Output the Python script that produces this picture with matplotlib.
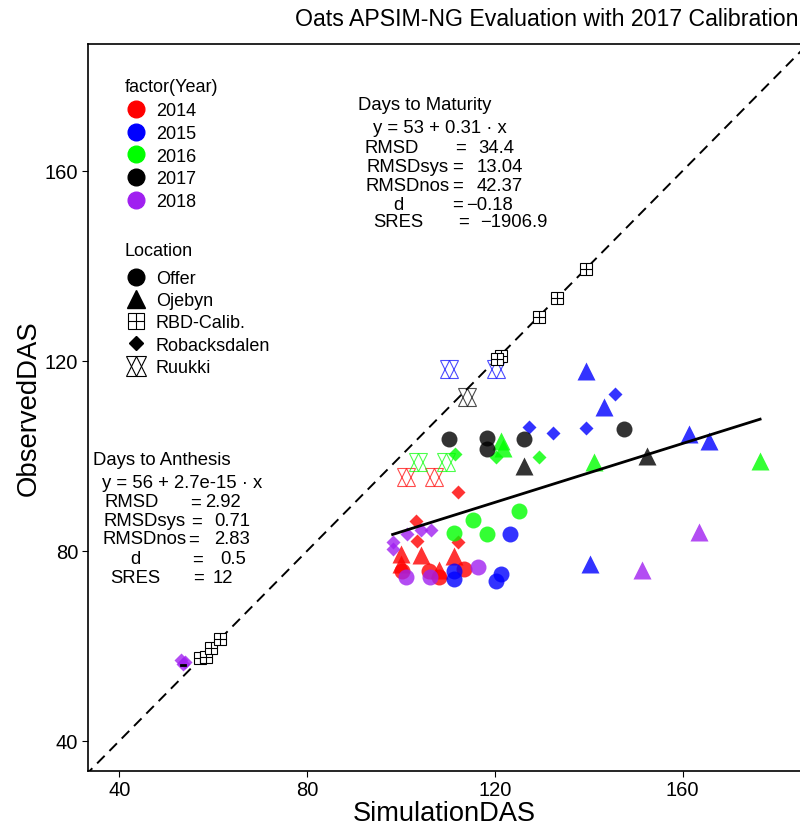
import matplotlib
matplotlib.use("Agg")
import matplotlib.pyplot as plt
from matplotlib.lines import Line2D
from matplotlib.legend_handler import HandlerTuple

plt.rcParams['font.family'] = ['Liberation Sans', 'DejaVu Sans']

# Days to maturity: simulated vs observed, with year and location per point
mat_sim = [101.0, 107.0, 112.1, 103.1, 103.3, 112.1, 99.9, 104.2, 111.2, 99.9, 108.0,
           100.3, 105.9, 108.0, 113.4,
           110.2, 120.2, 145.5, 127.3, 132.4, 139.3, 139.3, 143.3, 161.3, 165.6, 140.2,
           123.2, 111.2, 111.2, 121.3, 120.2,
           103.7, 109.5, 111.4, 120.2, 129.4, 121.3, 121.8, 141.2, 176.5,
           125.1, 115.3, 118.3, 111.2,
           114.0, 110.2, 118.3, 118.3, 126.2, 147.4, 126.2, 152.5,
           139.3, 133.3, 129.4, 121.3, 120.4,
           101.2, 104.2, 106.3, 98.2, 98.2, 101.0, 106.1, 116.4, 163.4, 151.4]
mat_obs = [95.5, 95.5, 92.3, 86.3, 82.0, 81.8, 79.3, 79.1, 78.9, 77.2, 75.9,
           75.7, 75.7, 74.4, 76.1,
           118.3, 118.3, 113.0, 106.0, 104.8, 105.8, 117.8, 110.3, 104.6, 103.1, 77.2,
           83.5, 75.7, 74.0, 75.1, 73.6,
           98.7, 98.7, 100.4, 99.7, 99.7, 103.1, 101.6, 98.7, 98.9,
           88.4, 86.5, 83.5, 83.7,
           112.4, 103.5, 103.7, 101.4, 103.5, 105.6, 97.8, 99.9,
           139.3, 133.2, 129.2, 121.0, 120.4,
           83.5, 84.4, 84.4, 81.8, 80.4, 74.4, 74.4, 76.5, 83.9, 75.9]
mat_year = ([2014] * 15 + [2015] * 16 + [2016] * 13 + [2017] * 13 + [2018] * 10)
mat_loc = (['Ruukki'] * 2 + ['Robacksdalen'] * 4 + ['Ojebyn'] * 5 + ['Offer'] * 4 +
           ['Ruukki'] * 2 + ['Robacksdalen'] * 4 + ['Ojebyn'] * 5 + ['Offer'] * 5 +
           ['Ruukki'] * 2 + ['Robacksdalen'] * 3 + ['Ojebyn'] * 4 + ['Offer'] * 4 +
           ['Ruukki'] * 1 + ['Offer'] * 5 + ['Ojebyn'] * 2 + ['RBD-Calib.'] * 5 +
           ['Robacksdalen'] * 5 + ['Offer'] * 3 + ['Ojebyn'] * 2)

# Days to anthesis
ant_sim = [53.2, 53.6, 54.0, 57.2, 58.5, 59.6, 61.4]
ant_obs = [57.0, 56.2, 56.6, 57.4, 57.6, 59.6, 61.4]
ant_year = [2018, 2018, 2018, 2017, 2017, 2017, 2017]
ant_loc = ['Robacksdalen'] * 3 + ['RBD-Calib.'] * 4

# Fitted lines (intercept, slope) as printed in the stats boxes
mat_fit = (53, 0.31)
ant_fit = (56, 2.7e-15)

years = [2014, 2015, 2016, 2017, 2018]
year_colors = {2014: '#FF0000', 2015: '#0000FF', 2016: '#00FF00',
               2017: '#000000', 2018: '#A020F0'}
locations = ['Offer', 'Ojebyn', 'RBD-Calib.', 'Robacksdalen', 'Ruukki']

mat_stats = [('RMSD', '34.4'), ('RMSDsys', '13.04'), ('RMSDnos', '42.37'),
             ('d', '\u22120.18'), ('SRES', '\u22121906.9')]
ant_stats = [('RMSD', '2.92'), ('RMSDsys', '0.71'), ('RMSDnos', '2.83'),
             ('d', '0.5'), ('SRES', '12')]


def draw_point(ax, x, y, color, loc):
    if loc == 'Offer':
        ax.plot(x, y, 'o', ms=11.5, color=color, alpha=0.8, mec='none')
    elif loc == 'Ojebyn':
        ax.plot(x, y, '^', ms=12.5, color=color, alpha=0.8, mec='none')
    elif loc == 'Robacksdalen':
        ax.plot(x, y, 'D', ms=7, color=color, alpha=0.8, mec='none')
    elif loc == 'RBD-Calib.':
        ax.plot(x, y, 's', ms=8, mfc='white', mec=color, mew=0.8)
        ax.plot(x, y, '+', ms=8, color=color, mew=0.8)
    else:
        # Ruukki: two open triangles forming a star
        ax.plot(x, y, '^', ms=13, mfc='none', mec=color, mew=0.8, alpha=0.7)
        ax.plot(x, y, 'v', ms=13, mfc='none', mec=color, mew=0.8, alpha=0.7)


def location_handle(loc):
    kw = dict(linestyle='none', color='black')
    if loc == 'Offer':
        return Line2D([], [], marker='o', ms=12, **kw)
    if loc == 'Ojebyn':
        return Line2D([], [], marker='^', ms=13, **kw)
    if loc == 'Robacksdalen':
        return Line2D([], [], marker='D', ms=7.5, **kw)
    if loc == 'RBD-Calib.':
        return (Line2D([], [], marker='s', ms=11, mfc='white', mec='black', mew=0.8, linestyle='none'),
                Line2D([], [], marker='+', ms=11, mew=0.8, **kw))
    return (Line2D([], [], marker='^', ms=14, mfc='none', mec='black', mew=0.8, linestyle='none'),
            Line2D([], [], marker='v', ms=14, mfc='none', mec='black', mew=0.8, linestyle='none'))


fig = plt.figure(figsize=(8, 8.29), dpi=100)
ax = fig.add_axes([0.11, 0.0691, 0.89, 0.8766])
xlim = (33.3, 185.0)
ylim = (33.7, 186.7)

# 1:1 line
ax.plot([30, 190], [30, 190], color='black', linestyle=(0, (5.5, 3.5)), lw=1.4, zorder=1)

for x, y, yr, loc in zip(mat_sim, mat_obs, mat_year, mat_loc):
    draw_point(ax, x, y, year_colors[yr], loc)
for x, y, yr, loc in zip(ant_sim, ant_obs, ant_year, ant_loc):
    draw_point(ax, x, y, year_colors[yr], loc)

# regression lines over the non-calibration range
fit_x = [s for s, l in zip(mat_sim, mat_loc) if l != 'RBD-Calib.']
x0, x1 = min(fit_x), max(fit_x)
ax.plot([x0, x1], [mat_fit[0] + mat_fit[1] * x0, mat_fit[0] + mat_fit[1] * x1],
        color='black', lw=2, zorder=5)
fit_x = [s for s, l in zip(ant_sim, ant_loc) if l != 'RBD-Calib.']
x0, x1 = min(fit_x), max(fit_x)
ax.plot([x0, x1], [ant_fit[0] + ant_fit[1] * x0, ant_fit[0] + ant_fit[1] * x1],
        color='black', lw=2, zorder=5)

ax.set_xlim(*xlim)
ax.set_ylim(*ylim)
ax.set_xticks([40, 80, 120, 160])
ax.set_yticks([40, 80, 120, 160])
ax.tick_params(labelsize=14.5, length=4, width=0.8, colors='black', pad=3)
ax.spines['right'].set_visible(False)
for side in ['left', 'bottom', 'top']:
    ax.spines[side].set_linewidth(1.2)
ax.set_xlabel('SimulationDAS', fontsize=19.6, labelpad=0.5)
ax.set_ylabel('ObservedDAS', fontsize=19.8, labelpad=2)

fig.text(0.369, 0.977, 'Oats APSIM-NG Evaluation with 2017 Calibration', fontsize=16.7,
         ha='left', va='center')

# stats boxes
tfs = 13.3
ax.text(90.8, 174.0, 'Days to Maturity', fontsize=tfs, va='center')
ax.text(94.0, 169.2, 'y = %d + %.2f \u00b7 x' % mat_fit, fontsize=tfs, va='center')
lab_x = [92.3, 92.7, 92.5, 98.3, 94.0]
eq_x = [111.5, 110.9, 110.9, 110.9, 112.1]
val_x = [116.4, 116.2, 116.2, 113.9, 116.8]
row_y = [165.0, 161.0, 157.0, 153.0, 149.3]
for (lab, val), lx, ex, vx, ry in zip(mat_stats, lab_x, eq_x, val_x, row_y):
    ax.text(lx, ry, lab, fontsize=tfs, va='center')
    ax.text(ex, ry, '=', fontsize=tfs, va='center')
    ax.text(vx, ry, val, fontsize=tfs, va='center')

ax.text(34.3, 99.2, 'Days to Anthesis', fontsize=tfs, va='center')
ax.text(36.2, 94.4, 'y = %d + %.1fe-15 \u00b7 x' % (ant_fit[0], ant_fit[1] * 1e15),
        fontsize=tfs, va='center')
lab_x = [36.9, 36.6, 36.4, 42.3, 38.1]
eq_x = [55.0, 55.2, 54.6, 55.4, 55.7]
val_x = [58.2, 60.1, 60.1, 61.4, 59.9]
row_y = [90.3, 86.3, 82.5, 78.3, 74.4]
for (lab, val), lx, ex, vx, ry in zip(ant_stats, lab_x, eq_x, val_x, row_y):
    ax.text(lx, ry, lab, fontsize=tfs, va='center')
    ax.text(ex, ry, '=', fontsize=tfs, va='center')
    ax.text(vx, ry, val, fontsize=tfs, va='center')

# legends, titles drawn separately so the gap below them can be set freely
lfs = 13
fig.text(125 / 800, 1 - 88 / 829, 'factor(Year)', fontsize=lfs, ha='left', va='center')
fig.text(125 / 800, 1 - 251 / 829, 'Location', fontsize=lfs, ha='left', va='center')

year_handles = [Line2D([], [], marker='o', ms=12, linestyle='none', color=year_colors[y]) for y in years]
leg1 = ax.legend(year_handles, [str(y) for y in years],
                 loc='upper left',
                 bbox_to_anchor=(125 / 800, (829 - 103.5) / 829),
                 bbox_transform=fig.transFigure,
                 frameon=False, fontsize=lfs,
                 borderpad=0, borderaxespad=0, handlelength=1.2, handletextpad=0.5,
                 labelspacing=0.31)
ax.add_artist(leg1)
loc_handles = [location_handle(l) for l in locations]
ax.legend(loc_handles, locations,
          handler_map={tuple: HandlerTuple(ndivide=1)},
          loc='upper left',
          bbox_to_anchor=(125 / 800, (829 - 271) / 829),
          bbox_transform=fig.transFigure,
          frameon=False, fontsize=lfs,
          borderpad=0, borderaxespad=0, handlelength=1.2, handletextpad=0.5,
          labelspacing=0.29)

fig.savefig('out.png', dpi=100)
